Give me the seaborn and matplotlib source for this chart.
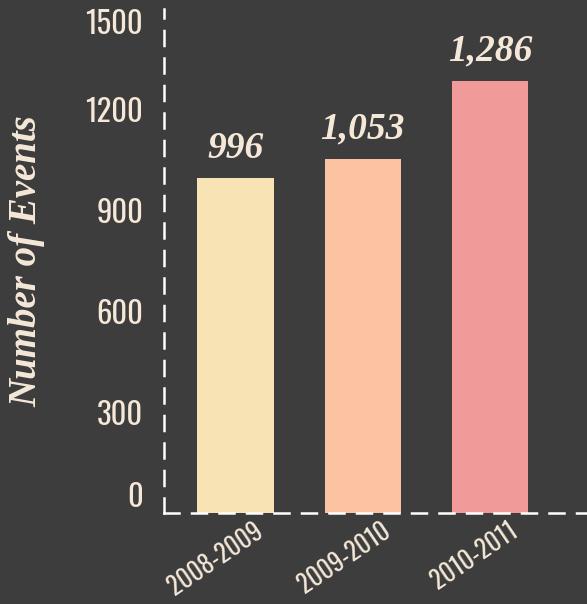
import matplotlib
matplotlib.use("Agg")
import matplotlib.pyplot as plt
import matplotlib.transforms as mtransforms
from matplotlib import font_manager as fm
import seaborn as sns
import pandas as pd

seasons = ["2008-2009", "2009-2010", "2010-2011"]
events = [996, 1053, 1286]
bar_colors = ["#f8e3b4", "#fcc3a3", "#f09a9a"]
y_ticks = [0, 300, 600, 900, 1200, 1500]

bg = "#3d3d3d"
cream = "#f5e8d8"

sns.set_theme(style="dark")
plt.rcParams["font.family"] = ["Liberation Serif", "DejaVu Serif"]

# pick a narrow sans for tick labels if one is around
names = {f.name for f in fm.fontManager.ttflist}
tick_font = "DejaVu Sans"
tick_stretch = "normal"
for cand in ["Oswald", "Roboto Condensed", "Liberation Sans Narrow", "Open Sans Condensed"]:
    if cand in names:
        tick_font = cand
        break
else:
    tick_stretch = "condensed"

df = pd.DataFrame({"season": seasons, "events": events})

fig = plt.figure(figsize=(5.87, 6.04), dpi=100, facecolor=bg)
ax = fig.add_axes([164 / 587, (604 - 513) / 604, (587 - 164) / 587, (513 - 9) / 604])
ax.set_facecolor(bg)

sns.barplot(data=df, x="season", y="events", hue="season", palette=bar_colors,
            legend=False, width=0.6, saturation=1, linewidth=0, ax=ax)

ax.set_xlim(-0.56, 2.76)
ax.set_ylim(0, 1500)
ax.set_yticks(y_ticks)
ax.set_yticklabels([str(t) for t in y_ticks])

for c in ax.containers:
    ax.bar_label(c, labels=[f"{int(v):,}" for v in c.datavalues], padding=9,
                 color=cream, fontsize=27, fontstyle="italic", fontweight="bold",
                 family=["Liberation Serif", "DejaVu Serif"])

for s in ["top", "right"]:
    ax.spines[s].set_visible(False)
for s in ["left", "bottom"]:
    ax.spines[s].set_color("white")
    ax.spines[s].set_linewidth(1.8)
    ax.spines[s].set_linestyle((0, (6, 5)))
    ax.spines[s].set_zorder(3)

ax.tick_params(axis="both", length=0, colors=cream)
ax.tick_params(axis="y", pad=15)
for lab in ax.get_yticklabels():
    lab.set_fontfamily(tick_font)
    lab.set_fontstretch(tick_stretch)
    lab.set_fontsize(22)
labs = ax.get_yticklabels()
labs[0].set_va("bottom")
labs[-1].set_va("top")

shift = mtransforms.ScaledTranslation(18 / 100, 0, fig.dpi_scale_trans)
for lab in ax.get_xticklabels():
    lab.set_fontfamily(tick_font)
    lab.set_fontstretch(tick_stretch)
    lab.set_fontsize(18)
    lab.set_rotation(34)
    lab.set_ha("right")
    lab.set_rotation_mode("anchor")
    lab.set_transform(lab.get_transform() + shift)

ax.set_xlabel("")
ax.set_ylabel("Number of Events", color=cream, fontsize=28, fontstyle="italic",
              fontweight="bold", va="center")
ax.yaxis.set_label_coords(-0.324, 0.5)
ax.grid(False)

fig.savefig("out.png", dpi=100, facecolor=bg)
